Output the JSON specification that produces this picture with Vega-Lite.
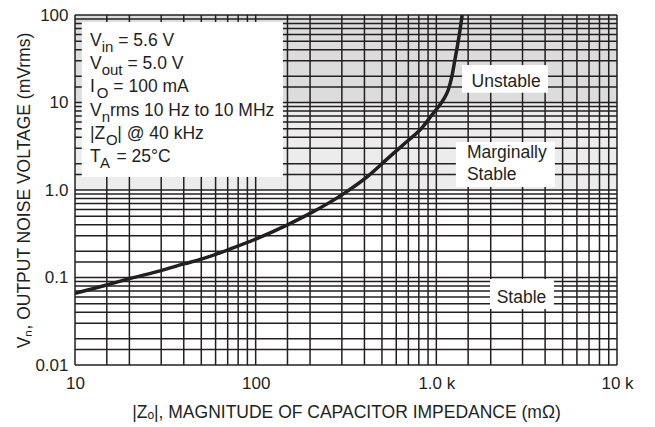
{
  "$schema": "https://vega.github.io/schema/vega-lite/v6.json",
  "width": 542,
  "height": 350,
  "autosize": {"type": "none"},
  "padding": {"left": 75, "top": 15, "right": 38, "bottom": 62},
  "background": "white",
  "config": {
    "view": {"stroke": null},
    "font": "Liberation Sans",
    "axis": {
      "labelFont": "Liberation Sans",
      "labelFontSize": 17,
      "labelColor": "#231f20",
      "titleFont": "Liberation Sans",
      "titleFontSize": 17.5,
      "titleFontWeight": "normal",
      "titleColor": "#231f20",
      "grid": false,
      "ticks": false,
      "domain": false
    }
  },
  "datasets": {
    "bands": [
      {"x": 10, "x2": 10000, "y": 10, "y2": 100, "zone": "unstable"},
      {"x": 10, "x2": 10000, "y": 1, "y2": 10, "zone": "marginal"}
    ],
    "gx": [
      {"x": 10}, {"x": 15}, {"x": 20}, {"x": 30}, {"x": 40}, {"x": 50}, {"x": 60}, {"x": 70}, {"x": 80}, {"x": 90},
      {"x": 100}, {"x": 150}, {"x": 200}, {"x": 300}, {"x": 400}, {"x": 500}, {"x": 600}, {"x": 700}, {"x": 800}, {"x": 900},
      {"x": 1000}, {"x": 1500}, {"x": 2000}, {"x": 3000}, {"x": 4000}, {"x": 5000}, {"x": 6000}, {"x": 7000}, {"x": 8000}, {"x": 9000},
      {"x": 10000}
    ],
    "gy": [
      {"y": 0.01}, {"y": 0.015}, {"y": 0.02}, {"y": 0.03}, {"y": 0.04}, {"y": 0.05}, {"y": 0.06}, {"y": 0.07}, {"y": 0.08}, {"y": 0.09},
      {"y": 0.1}, {"y": 0.15}, {"y": 0.2}, {"y": 0.3}, {"y": 0.4}, {"y": 0.5}, {"y": 0.6}, {"y": 0.7}, {"y": 0.8}, {"y": 0.9},
      {"y": 1}, {"y": 1.5}, {"y": 2}, {"y": 3}, {"y": 4}, {"y": 5}, {"y": 6}, {"y": 7}, {"y": 8}, {"y": 9},
      {"y": 10}, {"y": 15}, {"y": 20}, {"y": 30}, {"y": 40}, {"y": 50}, {"y": 60}, {"y": 70}, {"y": 80}, {"y": 90},
      {"y": 100}
    ],
    "boxes": [
      {"x": 10.9, "x2": 141.6, "y": 1.41, "y2": 83.2},
      {"x": 1387, "x2": 4150, "y": 12.9, "y2": 26.8},
      {"x": 1283, "x2": 4530, "y": 1.08, "y2": 3.54},
      {"x": 1982, "x2": 4477, "y": 0.0436, "y2": 0.096}
    ],
    "texts": [
      {"t": "V", "x": 12.11, "y": 44.6, "k": "main"},
      {"t": "in", "x": 14.05, "y": 44.6, "k": "sub"},
      {"t": "= 5.6 V", "x": 17.36, "y": 44.6, "k": "main"},
      {"t": "V", "x": 12.11, "y": 24.2, "k": "main"},
      {"t": "out", "x": 14.05, "y": 24.2, "k": "sub"},
      {"t": "= 5.0 V", "x": 19.52, "y": 24.2, "k": "main"},
      {"t": "I", "x": 12.11, "y": 13.1, "k": "main"},
      {"t": "O", "x": 13.19, "y": 13.1, "k": "sub"},
      {"t": "= 100 mA", "x": 16.3, "y": 13.1, "k": "main"},
      {"t": "V", "x": 12.11, "y": 7.08, "k": "main"},
      {"t": "n", "x": 14.05, "y": 7.08, "k": "sub"},
      {"t": "rms 10 Hz to 10 MHz", "x": 15.62, "y": 7.08, "k": "main"},
      {"t": "|Z", "x": 12.11, "y": 3.83, "k": "main"},
      {"t": "O", "x": 14.85, "y": 3.83, "k": "sub"},
      {"t": "| @ 40 kHz", "x": 17.14, "y": 3.83, "k": "main"},
      {"t": "T", "x": 12.11, "y": 2.07, "k": "main"},
      {"t": "A", "x": 13.75, "y": 2.07, "k": "sub"},
      {"t": "= 25°C", "x": 16.97, "y": 2.07, "k": "main"},
      {"t": "Unstable", "x": 1567, "y": 14.9, "k": "main"},
      {"t": "Marginally", "x": 1477, "y": 2.3, "k": "main"},
      {"t": "Stable", "x": 1477, "y": 1.3, "k": "main"},
      {"t": "Stable", "x": 2158, "y": 0.0515, "k": "main"}
    ],
    "curve": [
      {"x": 10, "y": 0.066}, {"x": 15, "y": 0.082}, {"x": 20, "y": 0.097}, {"x": 30, "y": 0.12},
      {"x": 40, "y": 0.143}, {"x": 50, "y": 0.162}, {"x": 75, "y": 0.218}, {"x": 100, "y": 0.275},
      {"x": 150, "y": 0.4}, {"x": 200, "y": 0.54}, {"x": 300, "y": 0.88}, {"x": 420, "y": 1.45},
      {"x": 520, "y": 2.15}, {"x": 600, "y": 2.8}, {"x": 700, "y": 3.7}, {"x": 830, "y": 5.1},
      {"x": 950, "y": 7.3}, {"x": 1030, "y": 9.0}, {"x": 1100, "y": 11}, {"x": 1165, "y": 14},
      {"x": 1220, "y": 20}, {"x": 1268, "y": 31}, {"x": 1310, "y": 45}, {"x": 1352, "y": 67},
      {"x": 1390, "y": 100}
    ]
  },
  "layer": [
    {
      "data": {"name": "bands"},
      "mark": {"type": "rect"},
      "encoding": {
        "x": {
          "field": "x", "type": "quantitative",
          "scale": {"type": "log", "domain": [10, 10000], "nice": false},
          "axis": {
            "values": [10, 100, 1000, 10000],
            "labelExpr": "datum.value == 1000 ? '1.0 k' : datum.value == 10000 ? '10 k' : datum.value == 100 ? '100' : '10'",
            "labelPadding": 10,
            "labelFlush": false,
            "titlePadding": 12,
            "title": "|Zₒ|, MAGNITUDE OF CAPACITOR IMPEDANCE (mΩ)"
          }
        },
        "x2": {"field": "x2"},
        "y": {
          "field": "y", "type": "quantitative",
          "scale": {"type": "log", "domain": [0.01, 100], "nice": false},
          "axis": {
            "values": [0.01, 0.1, 1, 10, 100],
            "labelExpr": "datum.value == 0.01 ? '0.01' : datum.value == 0.1 ? '0.1' : datum.value == 1 ? '1.0' : datum.value == 10 ? '10' : '100'",
            "labelPadding": 7,
            "labelFlush": false,
            "titlePadding": 1,
            "title": "Vₙ, OUTPUT NOISE VOLTAGE (mVrms)"
          }
        },
        "y2": {"field": "y2"},
        "color": {
          "field": "zone", "type": "nominal",
          "scale": {"domain": ["unstable", "marginal"], "range": ["#dcdcdc", "#ececec"]},
          "legend": null
        }
      }
    },
    {
      "data": {"name": "gx"},
      "mark": {"type": "rule", "color": "#231f20", "strokeWidth": 1.5},
      "encoding": {
        "x": {"field": "x", "type": "quantitative", "scale": {"type": "log", "domain": [10, 10000], "nice": false}}
      }
    },
    {
      "data": {"name": "gy"},
      "mark": {"type": "rule", "color": "#231f20", "strokeWidth": 1.5},
      "encoding": {
        "y": {"field": "y", "type": "quantitative", "scale": {"type": "log", "domain": [0.01, 100], "nice": false}}
      }
    },
    {
      "data": {"name": "boxes"},
      "mark": {"type": "rect", "color": "white"},
      "encoding": {
        "x": {"field": "x", "type": "quantitative", "scale": {"type": "log", "domain": [10, 10000], "nice": false}},
        "x2": {"field": "x2"},
        "y": {"field": "y", "type": "quantitative", "scale": {"type": "log", "domain": [0.01, 100], "nice": false}},
        "y2": {"field": "y2"}
      }
    },
    {
      "data": {"name": "texts"},
      "transform": [{"filter": "datum.k == 'main'"}],
      "mark": {"type": "text", "align": "left", "baseline": "alphabetic", "font": "Liberation Sans", "fontSize": 17.5, "color": "#231f20"},
      "encoding": {
        "x": {"field": "x", "type": "quantitative", "scale": {"type": "log", "domain": [10, 10000], "nice": false}},
        "y": {"field": "y", "type": "quantitative", "scale": {"type": "log", "domain": [0.01, 100], "nice": false}},
        "text": {"field": "t"}
      }
    },
    {
      "data": {"name": "texts"},
      "transform": [{"filter": "datum.k == 'sub'"}],
      "mark": {"type": "text", "align": "left", "baseline": "alphabetic", "font": "Liberation Sans", "fontSize": 15, "dy": 6, "color": "#231f20"},
      "encoding": {
        "x": {"field": "x", "type": "quantitative", "scale": {"type": "log", "domain": [10, 10000], "nice": false}},
        "y": {"field": "y", "type": "quantitative", "scale": {"type": "log", "domain": [0.01, 100], "nice": false}},
        "text": {"field": "t"}
      }
    },
    {
      "data": {"name": "curve"},
      "mark": {"type": "line", "color": "#231f20", "strokeWidth": 3.5, "interpolate": "monotone", "clip": true},
      "encoding": {
        "x": {"field": "x", "type": "quantitative", "scale": {"type": "log", "domain": [10, 10000], "nice": false}},
        "y": {"field": "y", "type": "quantitative", "scale": {"type": "log", "domain": [0.01, 100], "nice": false}}
      }
    }
  ]
}
